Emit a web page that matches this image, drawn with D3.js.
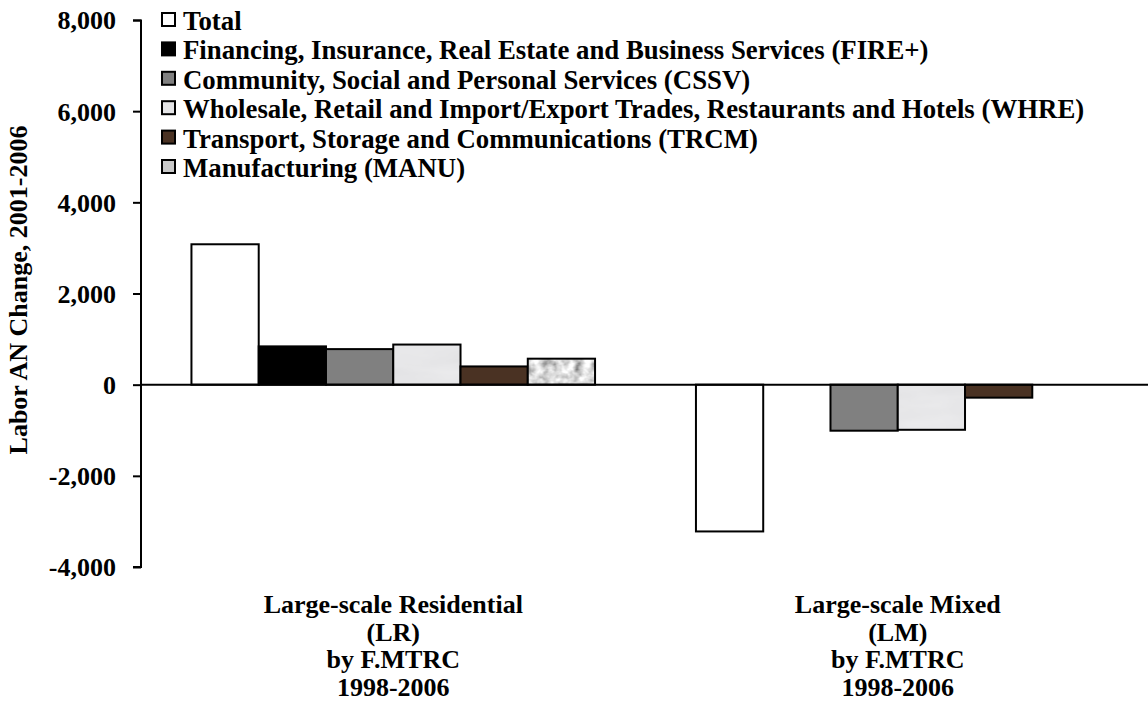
<!DOCTYPE html>
<html>
<head>
<meta charset="utf-8">
<script src="https://cdn.jsdelivr.net/npm/d3@7"></script>
<style>
  body { margin: 0; background: #fff; }
  text { font-family: 'Liberation Serif', 'Times New Roman', serif; font-weight: bold; fill: #000; }
</style>
</head>
<body>
<svg id="chart" width="1148" height="706"></svg>
<script>
'use strict';

// ---------------------------------------------------------
// DATA
// ---------------------------------------------------------
const groups = ['LR', 'LM'];
const groupLabels = [
  ['Large-scale Residential', '(LR)', 'by F.MTRC', '1998-2006'],
  ['Large-scale Mixed', '(LM)', 'by F.MTRC', '1998-2006']
];
const sectors = ['Total', 'FIRE+', 'CSSV', 'WHRE', 'TRCM', 'MANU'];
const sectorNames = [
  'Total',
  'Financing, Insurance, Real Estate and Business Services (FIRE+)',
  'Community, Social and Personal Services (CSSV)',
  'Wholesale, Retail and Import/Export Trades, Restaurants and Hotels (WHRE)',
  'Transport, Storage and Communications (TRCM)',
  'Manufacturing (MANU)'
];
const valuesLR = [3080, 840, 780, 880, 400, 570];
const valuesLM = [-3220, 0, -1010, -990, -285, 0];
const yTicks = [-4000, -2000, 0, 2000, 4000, 6000, 8000];

const values = { LR: valuesLR, LM: valuesLM };

// ---------------------------------------------------------
// SVG
// ---------------------------------------------------------
const svg = d3.select('#chart');
const W = 1148;
const axisX = 141;

const x0 = d3.scaleBand().domain(groups).range([axisX, 1150]).paddingInner(0.2).paddingOuter(0.1);
const x1 = d3.scaleBand().domain(sectors).range([0, x0.bandwidth()]);
const y = d3.scaleLinear().domain([-4000, 8000]).range([567, 20]);

// textures
const defs = svg.append('defs');
const marble = defs.append('filter').attr('id', 'marble').attr('x', 0).attr('y', 0).attr('width', 1).attr('height', 1);
marble.append('feTurbulence').attr('type', 'fractalNoise').attr('baseFrequency', '0.015 0.06').attr('numOctaves', 3).attr('seed', 4);
marble.append('feColorMatrix').attr('type', 'matrix')
  .attr('values', '0 0 0 0 0.93  0 0 0 0 0.93  0 0 0 0 0.94  -0.6 0 0 0 0.5');
const granite = defs.append('filter').attr('id', 'granite').attr('x', 0).attr('y', 0).attr('width', 1).attr('height', 1);
granite.append('feTurbulence').attr('type', 'fractalNoise').attr('baseFrequency', '0.12').attr('numOctaves', 3).attr('seed', 7);
granite.append('feColorMatrix').attr('type', 'matrix')
  .attr('values', '0.9 0.9 0 0 -0.2  0.9 0.9 0 0 -0.2  0.9 0.9 0 0 -0.2  0 0 0 0 1');

function addPattern(id, base, filterId) {
  const p = defs.append('pattern').attr('id', id).attr('patternUnits', 'userSpaceOnUse').attr('width', 300).attr('height', 300);
  p.append('rect').attr('width', 300).attr('height', 300).attr('fill', base);
  p.append('rect').attr('width', 300).attr('height', 300).attr('fill', '#fff').attr('filter', `url(#${ filterId })`);
}
addPattern('pat-whre', '#e2e2e4', 'marble');
addPattern('pat-manu', '#bdbdbd', 'granite');

const fills = ['#ffffff', '#000000', '#808080', 'url(#pat-whre)', '#4a3223', 'url(#pat-manu)'];
const legendFills = ['#ffffff', '#000000', '#808080', '#e4e4e6', '#4a3223', '#c8c8c8'];

// BARS
const g = svg.selectAll('g.group').data(groups).join('g')
  .attr('class', 'group')
  .attr('transform', d => `translate(${ x0(d) }, 0)`);

g.selectAll('rect').data(d => values[d].map((v, i) => ({ key: sectors[i], v, i })).filter(e => e.v !== 0))
  .join('rect')
  .attr('x', d => x1(d.key))
  .attr('width', x1.bandwidth())
  .attr('y', d => y(Math.max(0, d.v)))
  .attr('height', d => Math.abs(y(d.v) - y(0)))
  .attr('fill', d => fills[d.i])
  .attr('stroke', '#000')
  .attr('stroke-width', 2);

// AXES
const fmt = d3.format(',');
const yAxis = d3.axisLeft(y).tickValues(yTicks).tickSize(8).tickFormat(d => fmt(d).replace('\u2212', '-'));
const ya = svg.append('g').attr('transform', `translate(${ axisX }, 0)`).call(yAxis);
ya.select('.domain').attr('stroke-width', 2).attr('d', 'M-8,20.5H0V567H-8');
ya.selectAll('.tick line').attr('stroke-width', 2);
ya.selectAll('.tick text').attr('x', -25).attr('dy', '0.34em')
  .style('font-size', '26px').style('font-family', "'Liberation Serif', serif").style('font-weight', 'bold');

svg.append('line').attr('x1', axisX).attr('x2', W).attr('y1', y(0)).attr('y2', y(0)).attr('stroke', '#000').attr('stroke-width', 2);

svg.append('text')
  .attr('transform', 'translate(27, 290) rotate(-90)')
  .attr('text-anchor', 'middle')
  .style('font-size', '26px')
  .text('Labor AN Change, 2001-2006');

// CATEGORY LABELS
groups.forEach((grp, gi) => {
  const cx = x0(grp) + x0.bandwidth() / 2;
  svg.append('text').attr('text-anchor', 'middle').style('font-size', '26px')
    .selectAll('tspan').data(groupLabels[gi]).join('tspan')
    .attr('x', cx).attr('y', (d, i) => 613 + i * 27.7).text(d => d);
});

// LEGEND
const legend = svg.append('g').attr('transform', 'translate(161, 30)');
const li = legend.selectAll('g').data(sectorNames).join('g')
  .attr('transform', (d, i) => `translate(0, ${ i * 29.4 })`);
li.append('rect').attr('x', 1).attr('y', -17).attr('width', 13).attr('height', 13)
  .attr('fill', (d, i) => legendFills[i]).attr('stroke', '#000').attr('stroke-width', 2);
li.append('text').attr('x', 22).attr('y', 0).style('font-size', '26.8px').text(d => d);
</script>
</body>
</html>
